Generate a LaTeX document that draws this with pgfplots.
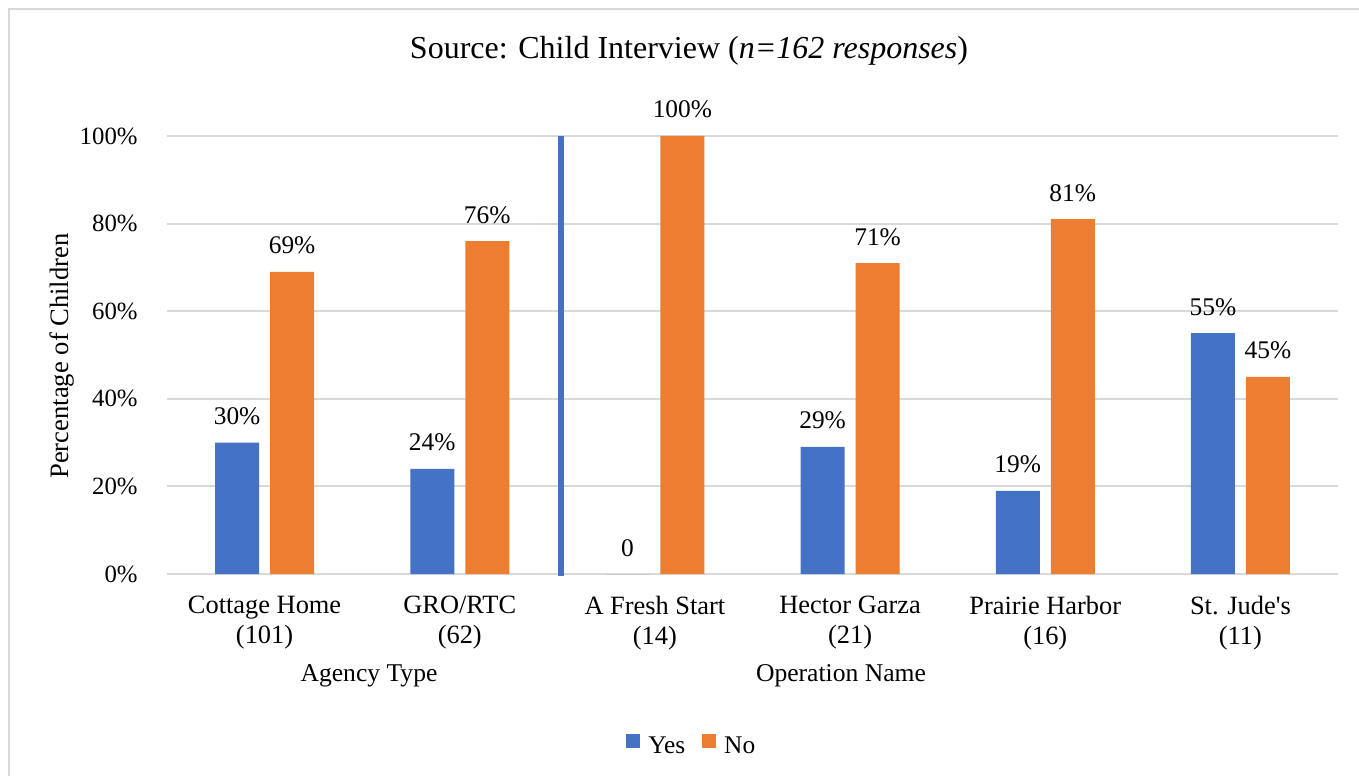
\documentclass[border=0pt]{standalone}
\usepackage{fontspec}
\setmainfont{Liberation Serif}
\usepackage{pgfplots}
\pgfplotsset{compat=1.18}
\definecolor{barblue}{HTML}{4472C4}
\definecolor{barorange}{HTML}{ED7D31}
\definecolor{gridgray}{HTML}{D9D9D9}

\begin{document}
\begin{tikzpicture}
\useasboundingbox (0,0) rectangle (679.5pt,388pt);
% frame (cropped on the right and bottom)
\draw[gridgray, line width=1pt] (4.5pt,0) -- (4.5pt,383.5pt) -- (679.5pt,383.5pt);
\begin{axis}[
    at={(83.5pt,101pt)}, anchor=south west,
    scale only axis, width=585.5pt, height=219pt,
    xmin=-0.5, xmax=5.5, ymin=0, ymax=100,
    ybar=5.5pt, bar width=22pt,
    axis line style={draw=none},
    major tick length=0pt,
    ymajorgrids, grid style={gridgray, line width=1pt},
    xtick={0,...,5},
    xticklabels={{Cottage Home\\(101)},{GRO/RTC\\(62)},{A Fresh Start\\(14)},
                 {Hector Garza\\(21)},{Prairie Harbor\\(16)},{St. Jude\textquotesingle s\\(11)}},
    xticklabel style={align=center, anchor=north, inner sep=0pt, yshift=-11pt,
                      font=\fontsize{13.2}{15}\selectfont},
    ytick={0,20,40,60,80,100},
    yticklabels={0\%,20\%,40\%,60\%,80\%,100\%},
    yticklabel style={anchor=east, inner sep=0pt, xshift=-14.5pt,
                      font=\fontsize{12.4}{14}\selectfont},
    point meta=explicit symbolic,
    nodes near coords,
    every node near coord/.append style={font=\fontsize{12.7}{14}\selectfont,
                                         anchor=base, yshift=9pt, text=black},
    clip=false,
    legend style={at={(0.449,-0.395)}, anchor=center, draw=none, fill=none,
                  legend columns=2, font=\fontsize{12.7}{14}\selectfont,
                  /tikz/every odd column/.append style={column sep=2pt},
                  /tikz/every even column/.append style={column sep=6.5pt}},
    legend image code/.code={\fill[#1] (0pt,-0.5pt) rectangle (7pt,6.5pt);},
]
\addplot[fill=barblue, draw=none] coordinates {
    (0,30) [30\%] (1,24) [24\%] (2,0) [0]
    (3,29) [29\%] (4,19) [19\%] (5,55) [55\%]
};
\addlegendentry{Yes}
\addplot[fill=barorange, draw=none] coordinates {
    (0,69) [69\%] (1,76) [76\%] (2,100) [100\%]
    (3,71) [71\%] (4,81) [81\%] (5,45) [45\%]
};
\addlegendentry{No}
\draw[barblue, line width=2.75pt] (axis cs:1.52,-0.5) -- (axis cs:1.52,100);
\end{axis}
\node[anchor=base, font=\fontsize{16}{19}\selectfont] at (344.5pt,358.5pt)
    {Source: Child Interview (\textit{n=162 responses})};
\node[rotate=90, font=\fontsize{13.3}{15}\selectfont] at (31pt,210pt) {Percentage of Children};
\node[anchor=base, font=\fontsize{12.8}{14}\selectfont] at (184.5pt,47pt) {Agency Type};
\node[anchor=base, font=\fontsize{12.8}{14}\selectfont] at (420.5pt,47pt) {Operation Name};
\end{tikzpicture}
\end{document}
